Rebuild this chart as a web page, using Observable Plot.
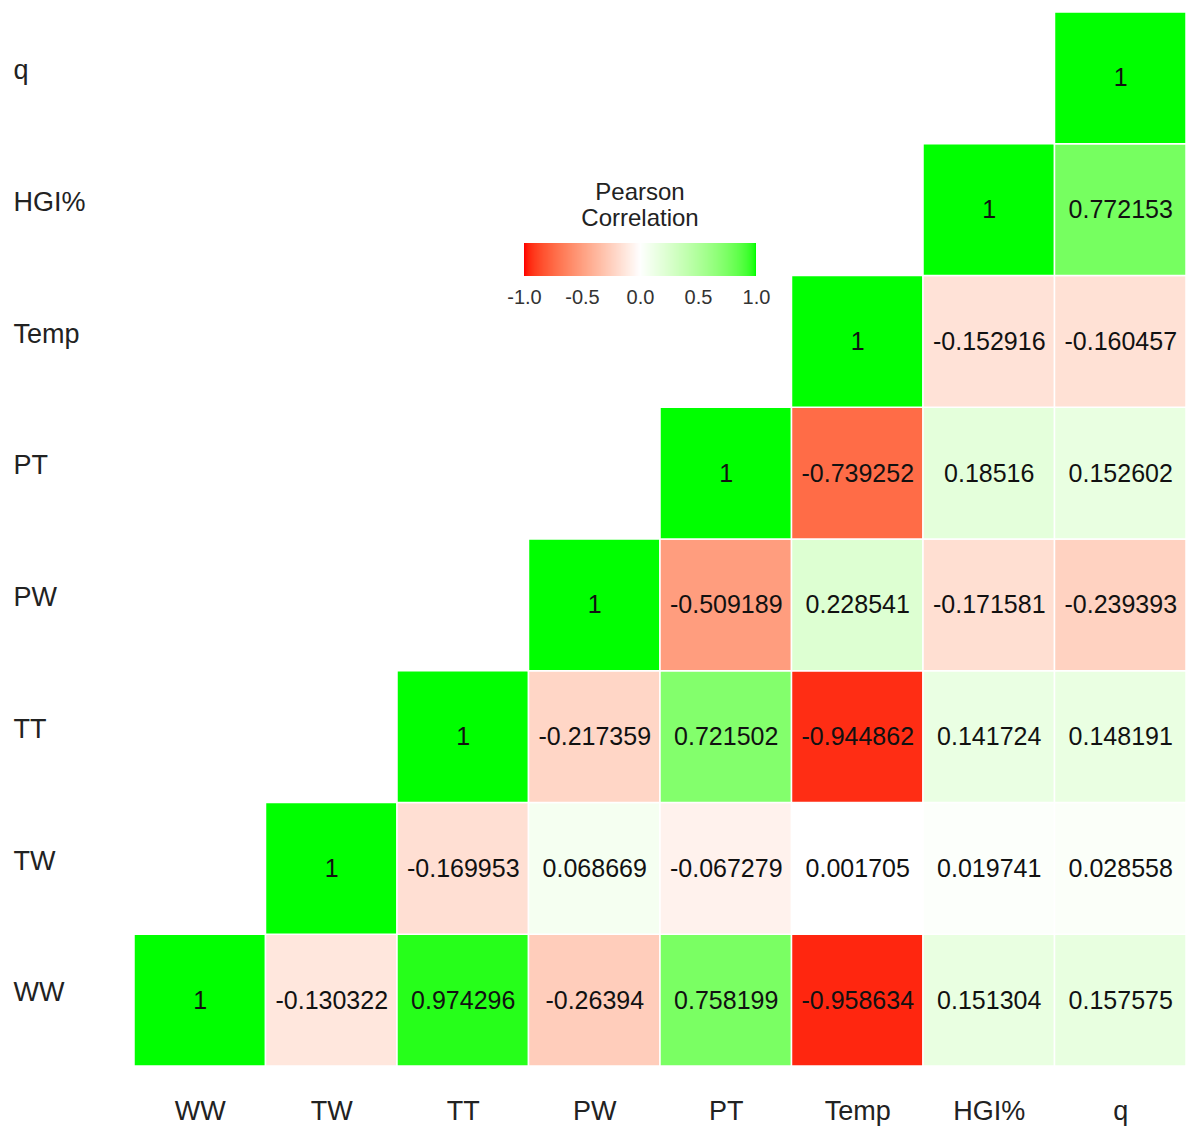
<!DOCTYPE html>
<html>
<head>
<meta charset="utf-8">
<script src="https://cdn.jsdelivr.net/npm/d3@7"></script>
<script src="https://cdn.jsdelivr.net/npm/@observablehq/plot@0.6"></script>
<style>
  body { margin: 0; background: #fff; font-family: "Liberation Sans", Arial, sans-serif; }
  #wrap { position: relative; width: 1186px; height: 1126px; }
  #wrap > svg { position: absolute; left: 0; top: 0; }
  #title { position: absolute; left: 540px; top: 179px; width: 200px; text-align: center;
           font-size: 24px; line-height: 26px; color: #222; }
  #legend { position: absolute; left: 515px; top: 243px; }
</style>
</head>
<body>
<div id="wrap">
  <div id="title">Pearson<br>Correlation</div>
  <div id="legend"></div>
</div>
<script>
// Variables (columns left→right, rows bottom→top)
const vars = ["WW", "TW", "TT", "PW", "PT", "Temp", "HGI%", "q"];

// Upper-triangle correlations, each row starts at its own diagonal
const rowWW   = [1, -0.130322, 0.974296, -0.26394, 0.758199, -0.958634, 0.151304, 0.157575];
const rowTW   = [1, -0.169953, 0.068669, -0.067279, 0.001705, 0.019741, 0.028558];
const rowTT   = [1, -0.217359, 0.721502, -0.944862, 0.141724, 0.148191];
const rowPW   = [1, -0.509189, 0.228541, -0.171581, -0.239393];
const rowPT   = [1, -0.739252, 0.18516, 0.152602];
const rowTemp = [1, -0.152916, -0.160457];
const rowHGI  = [1, 0.772153];
const rowQ    = [1];

const rows = [rowWW, rowTW, rowTT, rowPW, rowPT, rowTemp, rowHGI, rowQ];
const legendTicks = [-1, -0.5, 0, 0.5, 1];

const data = [];
rows.forEach((r, i) => {
  r.forEach((v, k) => {
    data.push({x: vars[i + k], y: vars[i], v});
  });
});

const colorOpts = {
  type: "linear",
  domain: [-1, 0, 1],
  range: ["#FF0000", "#FFFFFF", "#00FF00"],
  interpolate: "lab"
};

const chart = Plot.plot({
  width: 1186,
  height: 1126,
  marginLeft: 134,
  marginRight: 0,
  marginTop: 12,
  marginBottom: 60,
  style: {fontFamily: "'Liberation Sans', Arial, sans-serif", background: "white"},
  x: {domain: vars, padding: 0, round: false, label: null},
  y: {domain: vars.slice().reverse(), padding: 0, round: false, label: null},
  color: colorOpts,
  marks: [
    Plot.cell(data, {x: "x", y: "y", fill: "v", stroke: "white", strokeWidth: 1.5}),
    Plot.text(data, {x: "x", y: "y", text: d => String(d.v), fontSize: 25, fill: "#111"}),
    Plot.axisX({tickSize: 0, tickPadding: 34, fontSize: 27, fill: "#222", label: null}),
    Plot.axisY({tickSize: 0, tickPadding: 0, textAnchor: "start", dx: -121, dy: -8, fontSize: 27, fill: "#222", label: null})
  ]
});
document.getElementById("wrap").prepend(chart);

const leg = Plot.legend({
  color: colorOpts,
  legend: "ramp",
  width: 250,
  height: 68,
  marginTop: 0,
  marginBottom: 35,
  marginLeft: 9,
  marginRight: 9,
  tickSize: 0,
  ticks: legendTicks,
  tickFormat: d => d.toFixed(1),
  label: null,
  style: {fontSize: "20px", fontFamily: "'Liberation Sans', Arial, sans-serif", color: "#333", background: "transparent", overflow: "visible"}
});
d3.select(leg).selectAll(".tick text").attr("y", 14).attr("font-size", 20).attr("fill", "#333");
d3.select(leg).selectAll(".tick line").remove();
document.getElementById("legend").appendChild(leg);
</script>
</body>
</html>
